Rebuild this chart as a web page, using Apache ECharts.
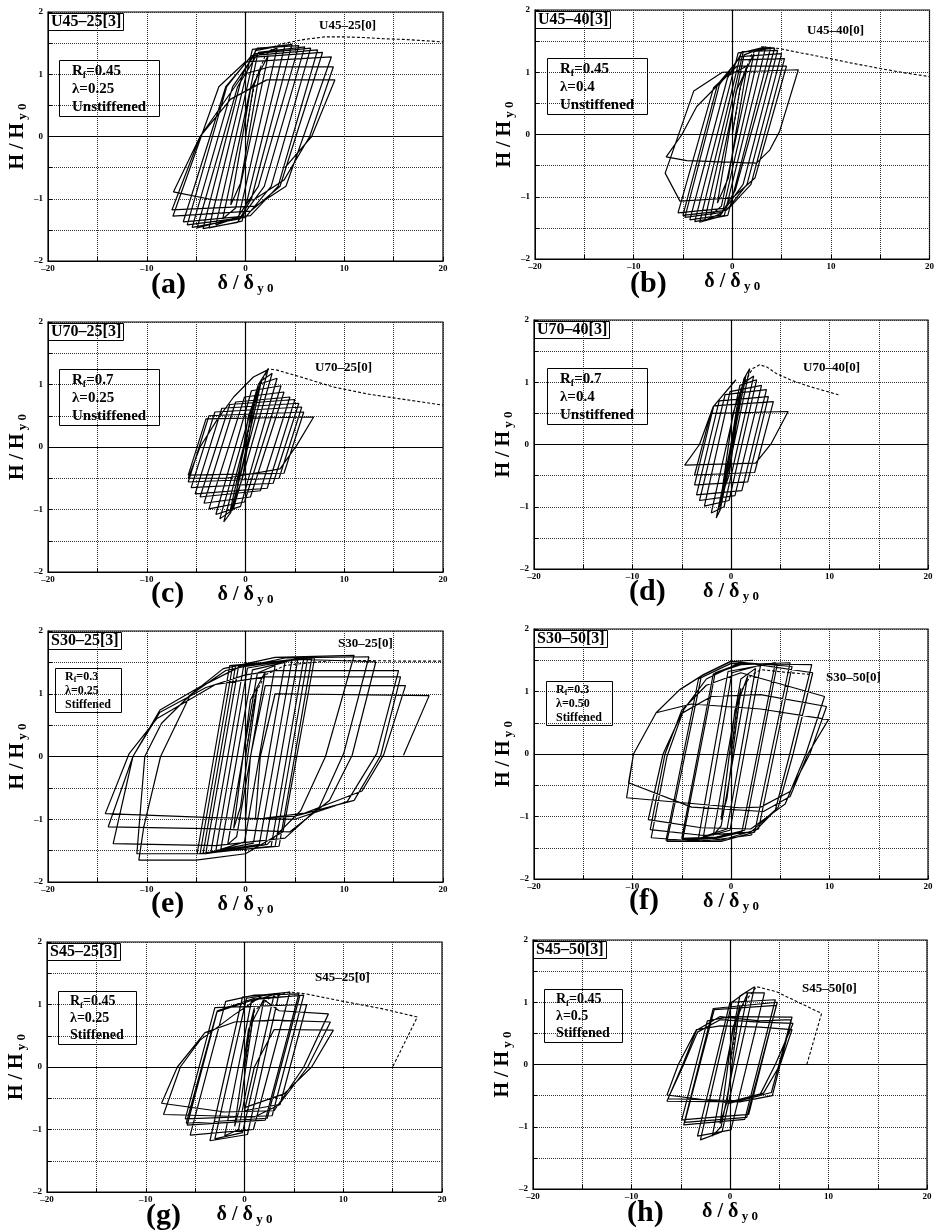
<!DOCTYPE html>
<html><head><meta charset="utf-8">
<script src="https://cdn.jsdelivr.net/npm/echarts@6/dist/echarts.min.js"></script>
<style>html,body{margin:0;padding:0;background:#fff}#c{width:937px;height:1232px}</style>
</head><body><div id="c"></div>
<script>
// ---------------- DATA ----------------
const panelIds = ['a','b','c','d','e','f','g','h'];
const specimenNames = ['U45–25','U45–40','U70–25','U70–40','S30–25','S30–50','S45–25','S45–50'];
const rfValues = ['0.45','0.45','0.7','0.7','0.3','0.3','0.45','0.45'];
const lambdaValues = ['0.25','0.4','0.25','0.4','0.25','0.50','0.25','0.5'];
const stiffTypes = ['Unstiffened','Unstiffened','Unstiffened','Unstiffened','Stiffened','Stiffened','Stiffened','Stiffened'];
const xTickLabels = [-20,-10,0,10,20];
const yTickLabels = [-2,-1,0,1,2];

// cyclic (loading pattern [3]) hysteresis paths, [δ/δy0, H/Hy0]
const cyclicA = [[0,0],[0.8,0.8],[1.5,1.1],[-0.5,-0.75],[-1.5,-1.1],[0.5,0.75],
 [2.3,1.3],[-1.0,-1.15],[-2.3,-1.32],[1.2,1.3],
 [3.2,1.42],[-0.7,-1.3],[-3.0,-1.42],[1.0,1.38],
 [4.0,1.47],[-0.35,-1.36],[-3.7,-1.47],[0.7,1.4],
 [4.7,1.48],[0.6,-1.0],[-0.8,-1.38],[-4.3,-1.48],[-0.3,1.0],[1.2,1.42],
 [5.4,1.46],[1.3,-0.8],[-0.8,-1.3],[-4.9,-1.47],[-0.8,0.8],[1.3,1.35],
 [6.0,1.44],[1.9,-0.8],[-0.5,-1.32],[-5.4,-1.46],[-1.3,0.8],[1.0,1.33],
 [6.6,1.42],[2.6,-0.8],[0,-1.3],[-5.9,-1.42],[-1.9,0.8],[0.6,1.3],
 [7.3,1.39],[3.3,-0.8],[0.5,-1.27],[-6.3,-1.37],[-2.0,0.8],[0.5,1.27],
 [7.8,1.35],[3.5,-0.8],[0.5,-1.2],[-7.35,-1.28],[-2.7,0.8],[0,1.2],
 [8.7,1.28],[4.1,-0.8],[1,-1.12],[-7.45,-1.18],[-4.6,0],[-0.2,1.0],[2.5,1.12],
 [8.9,1.12],[6.5,0],[3.9,-0.7],[0.8,-1.02],[-3.2,-1.02],[-7.3,-0.89],[-4.6,0],[-1.5,0.6],[2.15,0.91],
 [9.06,0.91],[6.7,0],[4,-0.5]];
const cyclicB = [[0,0],[0.8,0.75],[1.5,1.1],[-0.4,-0.7],[-1.5,-1.1],[0.4,0.7],
 [2.2,1.3],[-1.1,-1.15],[-2.2,-1.3],[1.2,1.28],
 [2.8,1.38],[-1.0,-1.26],[-2.8,-1.38],[1.1,1.32],
 [3.4,1.41],[-0.8,-1.3],[-3.3,-1.41],[0.9,1.32],
 [3.9,1.4],[-0.45,-1.3],[-3.8,-1.4],[0.6,1.31],
 [4.3,1.39],[0.3,-0.9],[-1.2,-1.3],[-4.3,-1.37],[-0.5,0.9],[1.0,1.33],
 [4.6,1.35],[1.1,-0.8],[-1.0,-1.25],[-4.8,-1.33],[-1.3,0.8],[0.8,1.25],
 [5.0,1.3],[1.5,-0.8],[-0.6,-1.22],[-5.0,-1.3],[-1.5,0.8],[0.6,1.2],
 [5.3,1.22],[1.9,-0.8],[-0.3,-1.18],[-5.5,-1.26],[-1.9,0.75],[0.5,1.1],
 [5.5,1.1],[2.3,-0.7],[0,-1.02],[-5.3,-1.07],[-6.8,-0.62],[-3.9,0.7],[-1,1.0],
 [6.7,1.04],[4.8,0.05],[3.8,-0.25],[2.45,-0.46],[-4.6,-0.42],[-6.7,-0.36],[-5.1,0],[-3.6,0.45],[-0.6,0.93],[1.5,1.1]];
const cyclicC = [[0,0],[0.6,0.6],[1.0,0.8],[-0.3,-0.5],[-1.0,-0.8],[0.3,0.5],
 [1.6,1.05],[-1.25,-0.95],[-1.6,-1.05],[1.3,1.0],
 [2.3,1.25],[-1.5,-1.05],[-2.2,-1.2],[1.55,1.05],
 [2.7,1.18],[-1.25,-1.0],[-2.6,-1.15],[1.3,1.0],
 [3.2,1.1],[-0.5,-0.95],[-3.0,-1.08],[0.6,0.9],
 [3.6,0.98],[-0.1,-0.88],[-3.7,-0.99],[-0.1,0.8],
 [3.9,0.88],[0.5,-0.8],[-4.2,-0.9],[-1.0,0.72],
 [4.5,0.8],[1.5,-0.7],[-4.6,-0.8],[-1.6,0.68],
 [5.0,0.76],[2.2,-0.66],[-5.1,-0.75],[-2.4,0.62],
 [5.4,0.7],[2.8,-0.58],[-5.5,-0.65],[-3.1,0.56],
 [5.7,0.64],[3.4,-0.5],[-5.8,-0.56],[-3.7,0.5],
 [5.9,0.56],[3.9,-0.42],[-5.8,-0.45],[-4.0,0.45],
 [6.9,0.48],[5.2,0.03],[3.5,-0.35],[-2,-0.5],[-5.8,-0.5],[-4.6,0],[-2.9,0.43],[-1.2,0.8],[0.8,1.12],[2.2,1.23]];
const cyclicD = [[0,0],[0.6,0.6],[1.0,0.85],[-0.2,-0.5],[-1.0,-0.85],[0.2,0.5],
 [1.5,1.1],[-1.05,-0.95],[-1.3,-1.05],[1.3,1.05],
 [1.9,1.22],[-1.1,-1.05],[-1.5,-1.18],[1.4,1.0],
 [2.3,1.1],[-0.7,-1.0],[-2.0,-1.1],[0.9,0.95],
 [2.6,1.04],[-0.2,-0.9],[-2.7,-0.99],[-0.1,0.85],
 [3.1,0.95],[0.4,-0.82],[-3.2,-0.9],[-0.6,0.8],
 [3.6,0.88],[1.1,-0.74],[-3.5,-0.81],[-1.2,0.7],
 [3.8,0.77],[1.7,-0.6],[-3.7,-0.65],[-1.75,0.62],
 [4.3,0.69],[2.4,-0.45],[-3.7,-0.49],[-2.05,0.5],
 [5.8,0.53],[4.1,0.02],[2.5,-0.3],[-4.7,-0.33],[-3.2,0],[-1.8,0.61],[0.5,1.04]];
const cyclicE = [[0,0],[0.8,0.8],[1.2,1.1],[-0.5,-0.8],[-1.2,-1.15],[0.5,0.9],
 [2.0,1.35],[-0.9,-1.28],[-1.8,-1.4],[1.2,1.33],
 [3.0,1.45],[-0.1,-1.36],[-2.5,-1.48],[0.7,1.38],
 [4.0,1.5],[0.8,-1.38],[-3.0,-1.5],[0.2,1.41],
 [4.7,1.53],[1.4,-1.4],[-3.5,-1.52],[-0.2,1.43],
 [5.3,1.55],[2.0,-1.41],[-4.0,-1.53],[-0.7,1.44],
 [5.9,1.56],[2.6,-1.43],[-4.3,-1.55],[-1.0,1.45],
 [6.3,1.57],[3.0,-1.43],[-4.6,-1.55],[-1.3,1.45],
 [6.7,1.56],[3.4,-1.43],[-4.9,-1.55],[-1.6,1.45],
 [7.0,1.57],[3.8,-1.2],[0,-1.55],[-5,-1.65],[-10.8,-1.65],[-10.3,-1.12],[-8.6,0],[-5.6,0.98],[-2.25,1.4],[3,1.58],
 [11.0,1.61],[8.1,0],[5.6,-0.86],[2.2,-1.4],[-4,-1.55],[-11.0,-1.55],[-10.2,0],[-8.5,0.53],[-5.6,0.98],[-2,1.37],[4,1.57],
 [12.5,1.59],[9.95,0.05],[7.5,-0.8],[4,-1.3],[-3,-1.42],[-13.4,-1.39],[-11.4,0],[-8.66,0.74],[-4.6,1.11],[-0.2,1.46],[5,1.55],
 [13.2,1.51],[10.8,0.02],[8.5,-0.7],[4.5,-1.2],[-4,-1.15],[-13.9,-1.12],[-11.4,0],[-8.7,0.7],[-4,1.1],[0,1.3],[3,1.37],
 [15.5,1.37],[13.3,0.05],[10.3,-0.72],[5,-1.0],[-4,-0.97],[-14.2,-0.91],[-11.8,0.04],[-9,0.6],[-3,1.15],[2,1.27],
 [15.7,1.27],[13.7,0.02],[11,-0.7],[5,-0.95],[0,-1.0],[0.5,0],[2,1.13],
 [16.2,1.13],[14,0.03],[11.8,-0.55],[6,-0.9],[1,-1.0],[1.5,0],[3,1.0],
 [18.6,0.97],[16,0.02]];
const cyclicF = [[0,0],[0.6,0.75],[1.0,1.05],[-0.4,-0.7],[-1.0,-1.05],[0.4,0.7],
 [1.7,1.25],[-1.0,-1.15],[-1.8,-1.3],[1.0,1.2],
 [2.5,1.37],[-0.4,-1.2],[-2.8,-1.32],[0.1,1.3],
 [3.0,1.42],[-0.1,-1.22],[-3.3,-1.35],[-0.3,1.32],
 [4.5,1.46],[1.1,-1.25],[-1.5,-1.35],[-4.9,-1.37],[-1.6,1.3],[1,1.45],
 [4.7,1.44],[1.4,-1.22],[-1.5,-1.33],[-5.0,-1.35],[-1.8,1.28],[1,1.43],
 [6.0,1.46],[2.4,-1.25],[-1,-1.4],[-6.5,-1.4],[-3.0,1.25],[0,1.48],
 [6.2,1.4],[2.8,-1.2],[-1,-1.38],[-6.6,-1.38],[-3.3,1.2],[0,1.45],
 [8.2,1.43],[6.0,0.02],[4.5,-0.9],[2,-1.3],[-3,-1.4],[-8.1,-1.34],[-6.5,-0.04],[-4.8,0.71],[-2.5,1.2],[1,1.47],
 [8.3,1.3],[6.3,0],[4.8,-0.85],[2,-1.25],[-3,-1.3],[-8.2,-1.21],[-6.7,0],[-5,0.7],[-2.5,1.1],[1,1.3],
 [9.5,0.92],[7.6,0],[5.5,-0.8],[2,-1.2],[-3,-1.18],[-8.4,-1.05],[-6.9,0],[-5,0.65],[-2,0.92],[3,0.95],
 [9.7,0.76],[8,0],[6,-0.6],[3,-0.85],[0.9,-0.86],[-10.6,-0.7],[-9.9,0],[-7.6,0.66],[-4,0.8],[3,0.72],
 [9.9,0.55],[7.8,0],[6,-0.68],[3.3,-0.92],[-4,-0.85],[-10.4,-0.46],[-9.9,0],[-7.6,0.66],[-5.2,1.03],[-2.8,1.27],[-0.1,1.48],[2.25,1.5]];
const cyclicG = [[0,0],[0.6,0.7],[1.0,0.95],[-0.4,-0.6],[-1.0,-0.95],[0.4,0.6],
 [2.0,1.1],[-0.6,-1.0],[-2.0,-1.1],[0.7,1.05],
 [3.0,1.16],[-0.2,-1.05],[-3.0,-1.15],[0.2,1.1],
 [3.5,1.18],[0.3,-1.08],[-3.5,-1.18],[-0.2,1.12],
 [4.6,1.2],[0.9,-1.0],[-5.5,-1.09],[-1.9,1.05],[1,1.15],
 [5.5,1.17],[2.1,-0.85],[-5.8,-0.93],[-2.75,0.9],[1,1.1],
 [5.6,1.14],[2.3,-0.82],[-5.9,-0.9],[-2.8,0.88],[1,1.08],
 [6.0,1.15],[2.8,-0.78],[-6.0,-0.83],[-3.0,0.95],
 [6.3,1.0],[3.6,-0.6],[1,-0.8],[-8.2,-0.76],[-6.5,0],[-4.5,0.43],[-1.1,0.83],[1.6,1.12],[3.5,0.9],
 [8.5,0.85],[6.0,0],[3,-0.7],[-2,-0.72],[-8.4,-0.58],[-6.8,0],[-4,0.55],[-1,0.72],[3,0.75],
 [8.7,0.72],[6.4,0],[3.5,-0.6],[0,-0.7],[1,0],[3,0.6],
 [9.0,0.59],[6.8,0],[4,-0.43],[0,-0.65]];
const cyclicH = [[0,0],[0.5,0.6],[1.0,0.95],[-0.3,-0.6],[-1.0,-0.95],[0.3,0.6],
 [1.8,1.15],[-0.9,-1.0],[-1.8,-1.15],[1.0,1.1],
 [2.5,1.25],[-0.8,-1.08],[-3.0,-1.21],[0.2,1.0],[1.5,1.15],
 [3.5,1.15],[0.1,-1.05],[-3.3,-1.15],[0,1.0],
 [4.6,1.04],[1.5,-0.88],[-4.7,-0.97],[-1.7,0.9],
 [4.8,1.0],[1.7,-0.85],[-4.6,-0.93],[-1.6,0.88],
 [4.7,0.95],[1.9,-0.8],[-4.9,-0.89],[-2.3,0.7],[0,0.77],
 [6.3,0.76],[4.3,-0.5],[1,-0.6],[-6.4,-0.59],[-4.8,0],[-3.4,0.55],[-1,0.77],[3,0.7],
 [6.2,0.72],[4.2,-0.45],[1,-0.58],[-6.3,-0.55],[-4.7,0],[-3.3,0.52],[-1,0.72],[3,0.68],
 [6.4,0.66],[4.6,0],[3,-0.5],[0,-0.62],[-6.4,-0.49],[-5.25,0],[-3.4,0.56],[-1,0.62],[3,0.6],
 [6.3,0.56],[5.1,0],[3.4,-0.46],[0,-0.6]];

// monotonic (loading pattern [0]) curves
const monotonicA = [[0,0],[0.5,0.5],[1,0.9],[2,1.3],[3,1.45],[4,1.5],[6,1.56],[8,1.6],[10,1.6],[12,1.59],[14,1.57],[16,1.56],[18,1.54],[20,1.52]];
const monotonicB = [[0,0],[1,0.9],[2,1.3],[3,1.41],[4.8,1.38],[7,1.31],[9.9,1.22],[12,1.15],[15,1.06],[17.5,0.99],[20,0.93]];
const monotonicC = [[0,0],[1,0.85],[2.3,1.25],[3.2,1.23],[5.6,1.12],[8.9,0.96],[12.3,0.85],[15.7,0.77],[20,0.67]];
const monotonicD = [[0,0],[1,0.9],[2.2,1.22],[2.9,1.28],[3.6,1.25],[4.6,1.14],[6.0,1.04],[8.0,0.93],[10.9,0.8]];
const monotonicE = [[0,0],[1,1.0],[2,1.3],[4,1.45],[5.6,1.48],[8.9,1.53],[12,1.53],[16,1.52],[20,1.52]];
const monotonicF = [[0,0],[1,1.0],[2,1.25],[3,1.35],[6,1.3],[8.3,1.27]];
const monotonicG = [[0,0],[1,0.9],[2.5,1.1],[4.6,1.2],[6.2,1.17],[10,1.05],[14,0.93],[17.5,0.8],[15,0]];
const monotonicH = [[0,0],[1,0.9],[2.7,1.25],[4.7,1.17],[9.3,0.82],[7.8,0]];

const cyclicAll = [cyclicA,cyclicB,cyclicC,cyclicD,cyclicE,cyclicF,cyclicG,cyclicH];
const monotonicAll = [monotonicA,monotonicB,monotonicC,monotonicD,monotonicE,monotonicF,monotonicG,monotonicH];

// ---------------- LAYOUT ----------------
const layout = [
 {l:48, t:12, w:395,h:249, p:[11,47,15], m:[271,7],  ld:103, lt:9},
 {l:535,t:10, w:395,h:249, p:[12,47,15], m:[272,14], ld:95,  lt:10},
 {l:48, t:322,w:395,h:250, p:[11,46,15], m:[267,39], ld:103, lt:7},
 {l:534,t:320,w:394,h:249, p:[13,47,15], m:[269,41], ld:95,  lt:8},
 {l:48, t:631,w:395,h:251, p:[7,36,12],  m:[290,6],  ld:103, lt:7},
 {l:534,t:629,w:394,h:250, p:[12,51,12], m:[292,42], ld:95,  lt:7},
 {l:47, t:942,w:395,h:250, p:[11,48,14], m:[268,29], ld:99,  lt:9},
 {l:533,t:940,w:394,h:249, p:[11,48,14], m:[269,42], ld:94,  lt:9}
];
const FONT = 'Liberation Serif';
const fmtNum = v => String(v).replace('-', '\u2013');

const grids = [], xAxes = [], yAxes = [], series = [], titles = [];
layout.forEach((L, i) => {
  grids.push({left:L.l, top:L.t, width:L.w, height:L.h, show:true, borderColor:'#000', borderWidth:1.2, backgroundColor:'transparent'});
  xAxes.push({type:'value', gridIndex:i, min:-20, max:20, interval:5,
    axisLine:{show:true, onZero:false, lineStyle:{color:'#000', width:1}},
    axisTick:{show:true, inside:true, length:4, lineStyle:{color:'#000'}},
    axisLabel:{color:'#000', fontFamily:FONT, fontWeight:'bold', fontSize:9, margin:3,
      formatter: v => xTickLabels.includes(v) ? fmtNum(v) : ''},
    splitLine:{show:true, lineStyle:{type:'dotted', color:'#333', width:1}},
    name:'{m|δ / δ}{s| y 0}', nameLocation:'middle', nameGap:11,
    nameTextStyle:{color:'#000', rich:{
      m:{fontFamily:FONT, fontWeight:'bold', fontSize:20, lineHeight:23, color:'#000'},
      s:{fontFamily:FONT, fontWeight:'bold', fontSize:13, lineHeight:12, verticalAlign:'bottom', color:'#000'}}}
  });
  yAxes.push({type:'value', gridIndex:i, min:-2, max:2, interval:0.5,
    axisLine:{show:true, onZero:false, lineStyle:{color:'#000', width:1}},
    axisTick:{show:true, inside:true, length:4, lineStyle:{color:'#000'}},
    axisLabel:{color:'#000', fontFamily:FONT, fontWeight:'bold', fontSize:9, margin:5,
      formatter: v => yTickLabels.some(t => Math.abs(t - v) < 1e-9) ? fmtNum(Math.round(v)) : ''},
    splitLine:{show:true, lineStyle:{type:'dotted', color:'#333', width:1}},
    name:'{m|H / H}{s| y 0}', nameLocation:'middle', nameGap:19, nameRotate:90,
    nameTextStyle:{color:'#000', rich:{
      m:{fontFamily:FONT, fontWeight:'bold', fontSize:20, lineHeight:23, color:'#000'},
      s:{fontFamily:FONT, fontWeight:'bold', fontSize:13, lineHeight:12, verticalAlign:'bottom', color:'#000'}}}
  });
  series.push({type:'line', name:specimenNames[i]+'[3]', xAxisIndex:i, yAxisIndex:i, data:cyclicAll[i],
    symbol:'none', showSymbol:false, animation:false, z:3,
    lineStyle:{color:'#000', width:1.2},
    markLine:{silent:true, symbol:['none','none'], animation:false, label:{show:false},
      lineStyle:{color:'#000', type:'solid', width:1.2}, data:[{xAxis:0},{yAxis:0}]}
  });
  series.push({type:'line', name:specimenNames[i]+'[0]', xAxisIndex:i, yAxisIndex:i, data:monotonicAll[i],
    symbol:'none', showSymbol:false, animation:false, z:4,
    lineStyle:{color:'#000', width:1.1, type:[3,2]}});
  titles.push({text:specimenNames[i]+'[3]', left:L.l, top:L.t+1, padding:[1,3,1,3], borderColor:'#000', borderWidth:1,
    textStyle:{fontFamily:FONT, fontWeight:'bold', fontSize:16, color:'#000'}});
  const fs = L.p[2];
  titles.push({text:'{b|R}{s|f}{b|=' + rfValues[i] + '}\n{b|λ=' + lambdaValues[i] + '}\n{b|' + stiffTypes[i] + '}',
    left:L.l+L.p[0], top:L.t+L.p[1], padding:[3, Math.round(fs*0.95), 2, Math.round(fs*0.85)], borderColor:'#000', borderWidth:1,
    textStyle:{rich:{
      b:{fontFamily:FONT, fontWeight:'bold', fontSize:fs, lineHeight:Math.round(fs*1.18), color:'#000'},
      s:{fontFamily:FONT, fontWeight:'bold', fontSize:Math.round(fs*0.65), lineHeight:Math.round(fs*0.6), verticalAlign:'bottom', color:'#000'}}}});
  titles.push({text:specimenNames[i]+'[0]', left:L.l+L.m[0], top:L.t+L.m[1], padding:0,
    textStyle:{fontFamily:FONT, fontWeight:'bold', fontSize:13, color:'#000'}});
  titles.push({text:'('+panelIds[i]+')', left:L.l+L.ld, top:L.t+L.h+L.lt, padding:0,
    textStyle:{fontFamily:FONT, fontWeight:'bold', fontSize:30, color:'#000'}});
});

const chart = echarts.init(document.getElementById('c'), null, {renderer:'canvas'});
chart.setOption({animation:false, backgroundColor:'#fff', title:titles, grid:grids, xAxis:xAxes, yAxis:yAxes, series:series});
</script></body></html>
